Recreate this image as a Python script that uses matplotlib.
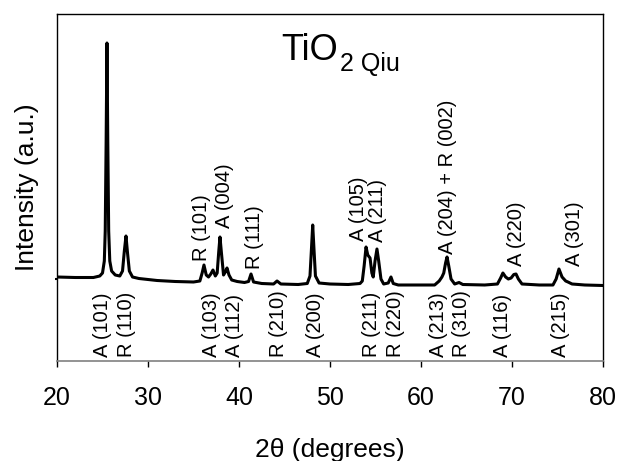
import matplotlib
matplotlib.use("Agg")
import matplotlib.pyplot as plt

plt.rcParams['font.family'] = ['Liberation Sans', 'DejaVu Sans']

# traced XRD pattern (2theta, intensity a.u.)
two_theta = [20, 22, 24, 24.7, 25.0, 25.2, 25.3, 25.4, 25.49, 25.58, 25.68, 25.8, 26.0, 26.4,
             26.9, 27.2, 27.4, 27.58, 27.75, 27.95, 28.3, 29, 31, 33, 35, 35.7, 35.95, 36.15,
             36.4, 36.65, 36.9, 37.14, 37.4, 37.6, 37.78, 37.91, 38.05, 38.3, 38.5, 38.68, 38.9,
             39.2, 39.8, 40.6, 41.05, 41.32, 41.6, 42.5, 43.8, 44.18, 44.6, 46.5, 47.5, 47.8,
             47.95, 48.1, 48.25, 48.4, 48.8, 50, 52, 53.3, 53.55, 53.75, 53.96, 54.15, 54.4,
             54.6, 54.75, 54.95, 55.16, 55.35, 55.6, 55.9, 56.4, 56.7, 56.95, 57.5, 60, 61.5,
             62.0, 62.3, 62.5, 62.7, 62.86, 63.05, 63.3, 63.7, 64.18, 64.6, 67, 68.4, 68.75,
             69.0, 69.3, 69.6, 69.9, 70.2, 70.44, 70.7, 71.1, 73, 74.5, 74.85, 75.16, 75.5,
             75.9, 76.15, 76.6, 78, 80]
intensity = [84, 83.5, 83.5, 85, 88, 100, 130, 220, 318, 220, 130, 100, 90, 86,
             85, 90, 110, 125, 108, 90, 84, 82.5, 80.5, 79.5, 79, 80, 88, 96,
             86, 84, 87, 91, 85, 88, 110, 124, 110, 86, 89, 93, 86,
             81, 79.5, 78.5, 79.5, 87, 79, 77.5, 77, 80, 77, 76.5, 77.5, 85,
             110, 136, 110, 85, 78, 77, 76.5, 77.5, 80, 95, 114, 106, 103,
             88, 84, 100, 112, 100, 82, 77, 78, 84, 77.5, 76, 76, 76,
             80, 84, 88, 98, 104, 95, 82, 77, 78.5, 76.5, 76, 77, 83,
             88, 84, 82, 83, 86.5, 87, 82, 77, 76, 76, 82, 92, 84,
             80, 79, 77, 76, 75.5]

# reflection labels above the pattern
top_labels = ["R (101)", "A (004)", "R (111)", "A (105)", "A (211)",
              "A (204) + R (002)", "A (220)", "A (301)"]
top_x = [35.93, 38.46, 41.65, 53.08, 55.27, 62.86, 70.44, 76.92]
top_y = [100, 133, 92, 120, 119, 107, 95, 95]

# reflection labels below the pattern
bottom_labels = ["A (101)", "R (110)", "A (103)", "A (112)", "R (210)", "A (200)",
                 "R (211)", "R (220)", "A (213)", "R (310)", "A (116)", "A (215)"]
bottom_x = [25.05, 27.6, 37.0, 39.55, 44.3, 48.45, 54.6, 57.15, 61.9, 64.4, 69.0, 75.3]
bottom_y = 4

fig = plt.figure(figsize=(6.21, 4.61), dpi=100)
ax = fig.add_axes([57 / 621, 100 / 461, 546 / 621, 347 / 461])

ax.plot(two_theta, intensity, color='black', lw=2.2, solid_joinstyle='round')

for lab, x, y in zip(top_labels, top_x, top_y):
    ax.text(x, y, lab, rotation=90, ha='center', va='bottom', fontsize=14.5)
for lab, x in zip(bottom_labels, bottom_x):
    ax.text(x, bottom_y, lab, rotation=90, ha='center', va='bottom', fontsize=14.5)

ax.text(0.41, 0.867, "TiO", transform=ax.transAxes, fontsize=26, va='baseline', ha='left')
ax.text(0.518, 0.836, "2 Qiu", transform=ax.transAxes, fontsize=18, va='baseline', ha='left')

ax.set_xlim(20, 80)
ax.set_ylim(0, 347)
ax.set_xticks([20, 30, 40, 50, 60, 70, 80])
ax.set_yticks([82])
ax.set_yticklabels([])
ax.tick_params(axis='x', direction='out', length=4, width=1, labelsize=18, pad=14)
ax.tick_params(axis='y', direction='out', length=1.5, width=1.5)

for s in ['top', 'right', 'left']:
    ax.spines[s].set_linewidth(1.0)
    ax.spines[s].set_color('black')
ax.spines['bottom'].set_color('#808080')
ax.spines['bottom'].set_linewidth(1.2)

ax.set_xlabel("2θ (degrees)", fontsize=19, labelpad=20)
ax.set_ylabel("Intensity (a.u.)", fontsize=19, labelpad=8)

fig.savefig("out.png", dpi=100)
